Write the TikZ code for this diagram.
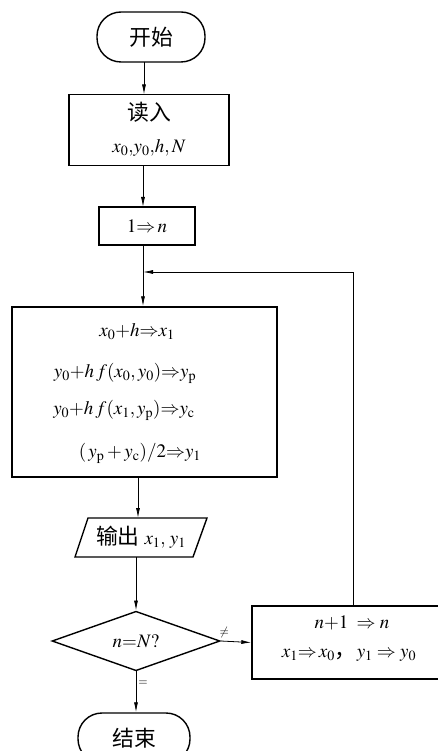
\documentclass[tikz,border=0pt]{standalone}
\usepackage{mathptmx}
\usepackage{fontspec}
\setmainfont{Liberation Serif}
\newfontfamily\cjk[Scale=1.15]{Noto Sans CJK SC}
\usetikzlibrary{shapes.geometric,arrows.meta}
\begin{document}
\begin{tikzpicture}[x=1pt,y=-1pt,
  every node/.style={font=\fontsize{19}{22}\selectfont},
  box/.style={draw,line width=1.4pt,inner sep=0pt},
  term/.style={box,rounded corners=24pt},
  txt/.style={inner sep=0pt},
  small/.style={txt,font=\fontsize{12}{14}\selectfont},
  arr/.style={line width=0.8pt,-{Latex[length=10pt,width=4pt]}},
  ln/.style={line width=0.8pt}]
\useasboundingbox (0,0) rectangle (437,751);
% start
\node[term,minimum width=108pt,minimum height=50pt] (start) at (151,37) {\cjk 开始};
% read
\node[box,minimum width=160pt,minimum height=71pt] (read) at (149,130) {};
\node[txt] (readA) at (149,112) {\cjk 读入};
\node[txt] (readB) at (149,148) {$x_0{,}y_0{,}h{,}\,N$};
% init
\node[box,minimum width=96pt,minimum height=38pt] (init) at (147,226) {$1{\Rightarrow}\,n$};
% calc
\node[box,minimum width=265pt,minimum height=170pt] (calc) at (144.5,392) {};
\node[txt] (c1) at (137,332) {$x_0{+}h{\Rightarrow}x_1$};
\node[txt] (c2) at (125,373) {$y_0{+}h\,f(x_0{,}\,y_0){\Rightarrow}y_{\mathrm{p}}$};
\node[txt] (c3) at (124,410) {$y_0{+}h\,f(x_1{,}\,y_{\mathrm{p}}){\Rightarrow}y_{\mathrm{c}}$};
\node[txt] (c4) at (140,453) {$(\,y_{\mathrm{p}}+y_{\mathrm{c}})/2{\Rightarrow}y_1$};
% output parallelogram
\coordinate (outN) at (138,518);
\draw[line width=1.4pt] (88,518) -- (207,518) -- (193,557) -- (75,557) -- cycle;
\coordinate (outS) at (136,557);
\node[txt] (out) at (141,537) {{\cjk 输出} $x_1,\,y_1$};
% decision
\node[draw,line width=1.4pt,diamond,inner sep=0pt,minimum width=168pt,minimum height=51pt] (dec) at (136,641) {$n{=}N?$};
% update
\node[box,minimum width=188pt,minimum height=73pt] (upd) at (346,642.5) {};
\node[txt] (u1) at (352,623) {$n{+}1\;\Rightarrow n$};
\node[txt] (u2) at (349,655) {$x_1{\Rightarrow}\,x_0$\hbox{\cjk ，}$y_1\Rightarrow y_0$};
% end
\node[term,minimum width=112pt,minimum height=50pt] (stop) at (134,738) {\cjk 结束};
% connectors
\coordinate (join) at (143,272);
\coordinate (loopTop) at (353,272);
\draw[arr] (144,62) -- (144,94.5);
\draw[arr] (143,165.5) -- (143,207);
\draw[ln] (init.south -| join) -- (join);
\draw[arr] (join) -- (join |- calc.north);
\draw[arr] (138,477) -- (outN);
\draw[arr] (outS) -- (dec.north);
\draw[arr] (dec.east) -- node[small,above=3pt,pos=0.12] (ne) {$\neq$} (upd.west);
\draw[arr] (dec.south) -- node[small,right=2pt,pos=0.3] (eq) {$=$} (dec.south |- stop.north);
\draw[ln] (upd.north -| loopTop) -- (loopTop);
\draw[arr] (loopTop) -- (join);
\end{tikzpicture}
\end{document}
